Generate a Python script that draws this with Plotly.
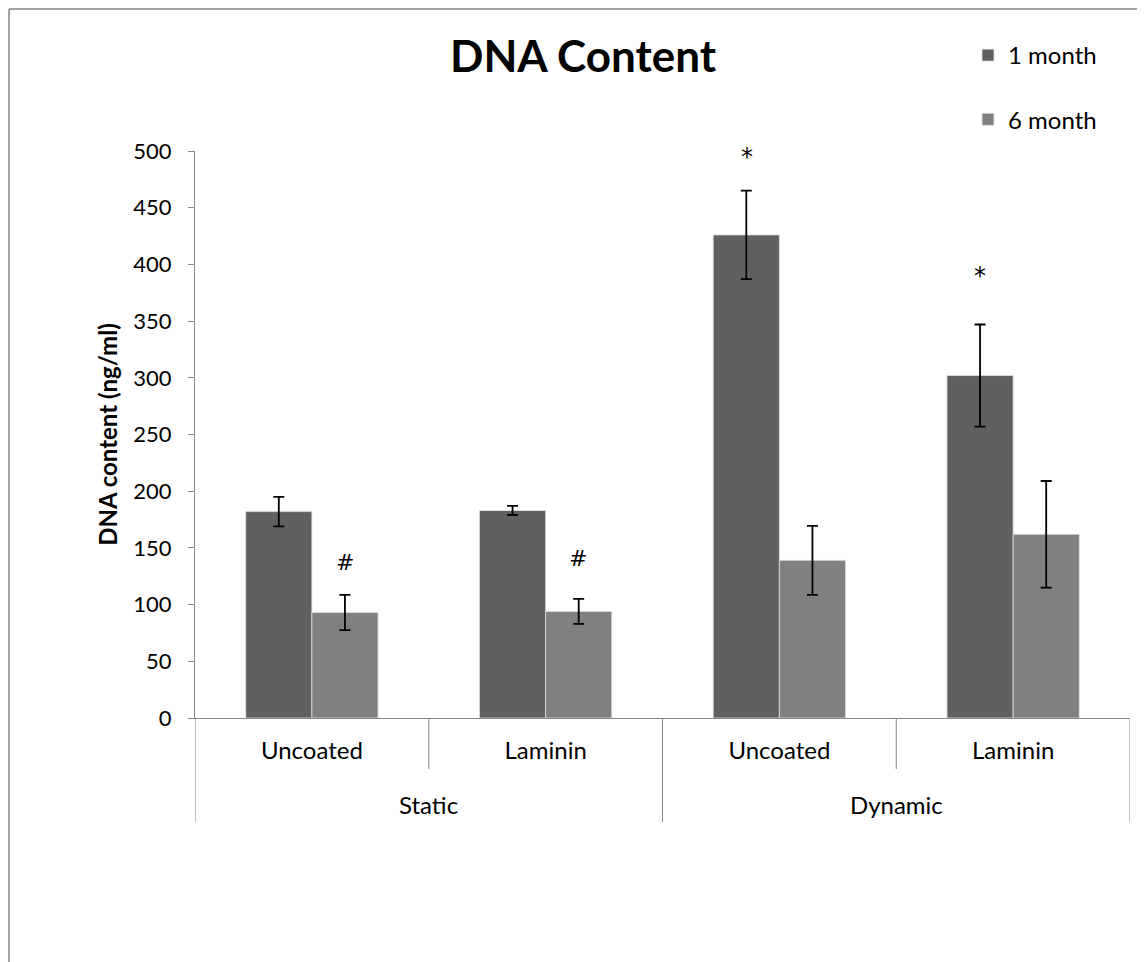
import plotly.graph_objects as go

# ---- data ----
groups = ["Static", "Dynamic"]
subcats = ["Uncoated", "Laminin", "Uncoated", "Laminin"]
series_names = ["1 month", "6 month"]
month1 = [182, 183, 426, 302]
month1_err = [13, 4, 39, 45]
month6 = [93, 94, 139, 162]
month6_err = [15.5, 11, 30.5, 47]
sig_labels = ["#", "#", "*", "*"]
sig_series = ["6 month", "6 month", "1 month", "1 month"]
sig_y = [137, 141, 495, 390]
yticks = [0, 50, 100, 150, 200, 250, 300, 350, 400, 450, 500]

colors = {"1 month": "#606060", "6 month": "#808080"}
FONT = "Lato"

# page has an 8px body margin; size the figure so it fills the window exactly
OFF = 8
W, H = 1145 - OFF, 962 - OFF
PL, PR, PT, PB = 195, 1130, 151, 718  # plot area in screen pixels
L, T = PL - OFF, PT - OFF
R, B = W - (PR - OFF), H - (PB - OFF)
pw, ph = PR - PL, PB - PT

xpos = list(range(len(subcats)))

fig = go.Figure()
for name, vals, errs in [("1 month", month1, month1_err), ("6 month", month6, month6_err)]:
    fig.add_trace(go.Bar(
        x=xpos, y=vals, name=name, legendgroup=name,
        marker=dict(color=colors[name], line=dict(color="#e0e0e0", width=0.8)),
        error_y=dict(type="data", array=errs, visible=True, color="black",
                     thickness=1.8, width=5.5),
    ))


def px_x(p):
    return (p - PL) / pw


def px_y(p):
    return (PB - p) / ph


shapes = []
# category separators
for xb in [0.5, 2.5]:
    shapes.append(dict(type="line", xref="x", yref="paper", x0=xb, x1=xb,
                       y0=0, y1=px_y(769), line=dict(color="#868686", width=1)))
for xb in [-0.5, 1.5, 3.5]:
    shapes.append(dict(type="line", xref="x", yref="paper", x0=xb, x1=xb,
                       y0=0, y1=px_y(822), line=dict(color="#868686", width=1)))
# outer frame (top and left visible)
shapes.append(dict(type="line", xref="paper", yref="paper", x0=px_x(OFF + 1), x1=px_x(1200),
                   y0=px_y(OFF + 1), y1=px_y(OFF + 1), line=dict(color="#868686", width=1.5)))
shapes.append(dict(type="line", xref="paper", yref="paper", x0=px_x(OFF + 1), x1=px_x(OFF + 1),
                   y0=px_y(OFF + 1), y1=px_y(1000), line=dict(color="#868686", width=1.5)))

annotations = []
# group labels
for gi, g in enumerate(groups):
    annotations.append(dict(text=g, xref="x", yref="paper", x=gi * 2 + 0.5, y=px_y(804),
                            showarrow=False, font=dict(family=FONT, size=24, color="black"),
                            xanchor="center", yanchor="middle"))
# significance markers
for i, (lab, s, yv) in enumerate(zip(sig_labels, sig_series, sig_y)):
    off = -0.14 if s == "1 month" else 0.14
    annotations.append(dict(text=lab, xref="x", yref="y", x=i + off, y=yv,
                            showarrow=False,
                            font=dict(family="DejaVu Sans", size=24 if lab == "*" else 22,
                                      color="black"),
                            xanchor="center", yanchor="middle"))

fig.update_layout(
    width=W, height=H,
    margin=dict(l=L, r=R, t=T, b=B, autoexpand=False),
    paper_bgcolor="white", plot_bgcolor="white",
    barmode="group", bargap=0.434, bargroupgap=0,
    title=dict(text="<b>DNA Content</b>", xref="paper", x=px_x(583), xanchor="center",
               y=1 - (56.5 - OFF) / H, yanchor="middle",
               font=dict(family=FONT, size=44, color="black")),
    legend=dict(x=px_x(968), y=px_y(33), xanchor="left", yanchor="top",
                traceorder="grouped", tracegroupgap=30,
                font=dict(family=FONT, size=24, color="black"),
                bgcolor="rgba(0,0,0,0)"),
    shapes=shapes, annotations=annotations,
    font=dict(family=FONT, color="black"),
)
fig.update_xaxes(
    tickmode="array", tickvals=xpos, ticktext=subcats,
    range=[-0.5, 3.5], showline=True, linecolor="#868686", linewidth=1,
    ticks="", ticklabelstandoff=11,
    tickfont=dict(family=FONT, size=24, color="black"),
    showgrid=False, zeroline=False,
)
fig.update_yaxes(
    range=[0, 500], tickvals=yticks, showline=True, linecolor="#868686", linewidth=1,
    ticks="outside", ticklen=6, tickcolor="#868686", ticklabelstandoff=12,
    tickfont=dict(family=FONT, size=22, color="black"),
    showgrid=False, zeroline=False,
    title=dict(text="<b>DNA content (ng/ml)</b>", font=dict(family=FONT, size=24, color="black"),
               standoff=8),
)

fig.write_html("out.html")
